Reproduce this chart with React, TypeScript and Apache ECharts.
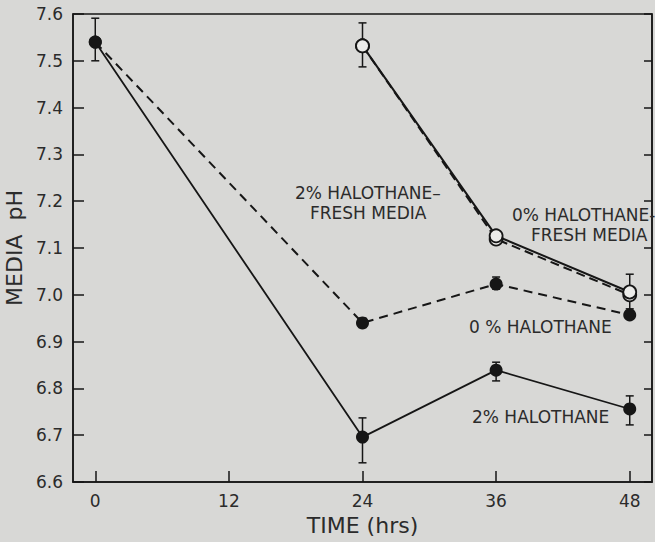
import React, { useEffect, useRef } from "react";
import * as echarts from "echarts";

const timeTicks = [0, 12, 24, 36, 48];

const halo2 = [[0, 7.54], [24, 6.696], [36, 6.839], [48, 6.756]];
const halo0 = [[0, 7.54], [24, 6.94], [36, 7.023], [48, 6.957]];
const fresh2 = [[24, 7.532], [36, 7.126], [48, 7.006]];
const fresh0 = [[24, 7.532], [36, 7.119], [48, 7.0]];

// [time, low, high]
const errorBars = [
  [0, 7.5, 7.591],
  [24, 7.487, 7.581],
  [24, 6.641, 6.737],
  [24, 6.93, 6.95],
  [36, 6.816, 6.856],
  [36, 7.012, 7.038],
  [48, 6.722, 6.784],
  [48, 6.97, 7.044],
];

const labels = [
  { text: "2% HALOTHANE–", x: 295, y: 193 },
  { text: "FRESH MEDIA", x: 310, y: 213 },
  { text: "0% HALOTHANE-", x: 512, y: 215 },
  { text: "FRESH MEDIA", x: 531, y: 235 },
  { text: "0 % HALOTHANE", x: 469, y: 327 },
  { text: "2% HALOTHANE", x: 472, y: 417 },
];

const INK = "#161616";
const TXT = "#2b2b2b";
const BG = "#d8d8d6";
const FONT = "DejaVu Sans";

export default function App() {
  const ref = useRef<HTMLDivElement>(null);
  useEffect(() => {
    if (!ref.current) return;
    const chart = echarts.init(ref.current, null, { renderer: "svg" });
    const filledSym = { color: INK };
    const openSym = { color: "#ececea", borderColor: INK, borderWidth: 1.8 };
    chart.setOption({
      animation: false,
      backgroundColor: BG,
      grid: {
        left: 73,
        right: 3,
        top: 14,
        bottom: 60,
        containLabel: false,
        outerBoundsMode: "none",
        show: true,
        borderColor: INK,
        borderWidth: 1.5,
        backgroundColor: "transparent",
      },
      xAxis: {
        type: "value",
        min: -2,
        max: 50,
        name: "TIME (hrs)",
        nameLocation: "middle",
        nameGap: 32,
        nameTextStyle: { fontFamily: FONT, fontSize: 22, color: TXT },
        axisLine: { onZero: false, lineStyle: { color: INK, width: 1.5 } },
        axisTick: {
          inside: true,
          length: 11,
          customValues: timeTicks,
          lineStyle: { color: INK, width: 1.5 },
        },
        axisLabel: {
          customValues: timeTicks,
          fontFamily: FONT,
          fontSize: 17,
          color: TXT,
          margin: 10,
        },
        splitLine: { show: false },
      },
      yAxis: [
        {
          type: "value",
          min: 6.6,
          max: 7.6,
          interval: 0.1,
          name: "MEDIA  pH",
          nameLocation: "middle",
          nameGap: 44,
          nameTextStyle: { fontFamily: FONT, fontSize: 22, color: TXT },
          axisLine: { show: true, onZero: false, lineStyle: { color: INK, width: 1.5 } },
          axisTick: { inside: true, length: 11, lineStyle: { color: INK, width: 1.5 } },
          axisLabel: {
            fontFamily: FONT,
            fontSize: 17,
            color: TXT,
            margin: 10,
            formatter: (v: number) => v.toFixed(1),
          },
          splitLine: { show: false },
        },
        {
          type: "value",
          position: "right",
          min: 6.6,
          max: 7.6,
          interval: 0.1,
          axisLine: { show: true, onZero: false, lineStyle: { color: INK, width: 1.5 } },
          axisTick: { inside: true, length: 8, lineStyle: { color: INK, width: 1.5 } },
          axisLabel: { show: false },
          splitLine: { show: false },
        },
      ],
      graphic: labels.map((l) => ({
        type: "text",
        x: l.x,
        y: l.y,
        z: 100,
        style: {
          text: l.text,
          font: `17px "${FONT}"`,
          fill: TXT,
          textAlign: "left",
          textVerticalAlign: "middle",
        },
      })),
      series: [
        {
          type: "custom",
          z: 1,
          data: errorBars,
          encode: { x: 0, y: [1, 2] },
          renderItem: (params: any, api: any) => {
            const x = api.value(0);
            const p1 = api.coord([x, api.value(1)]);
            const p2 = api.coord([x, api.value(2)]);
            const w = 4;
            const st = { stroke: INK, lineWidth: 1.5 };
            return {
              type: "group",
              children: [
                { type: "line", shape: { x1: p1[0], y1: p1[1], x2: p2[0], y2: p2[1] }, style: st },
                { type: "line", shape: { x1: p1[0] - w, y1: p1[1], x2: p1[0] + w, y2: p1[1] }, style: st },
                { type: "line", shape: { x1: p2[0] - w, y1: p2[1], x2: p2[0] + w, y2: p2[1] }, style: st },
              ],
            };
          },
        },
        {
          name: "0% HALOTHANE",
          type: "line",
          z: 3,
          data: halo0,
          symbol: "circle",
          symbolSize: 13,
          itemStyle: filledSym,
          lineStyle: { color: INK, width: 2, type: [9, 6] },
        },
        {
          name: "2% HALOTHANE",
          type: "line",
          z: 3,
          data: halo2,
          symbol: "circle",
          symbolSize: 13,
          itemStyle: filledSym,
          lineStyle: { color: INK, width: 1.8 },
        },
        {
          name: "FRESH dashed",
          type: "line",
          z: 4,
          data: fresh0,
          symbol: "circle",
          symbolSize: 13,
          itemStyle: openSym,
          lineStyle: { color: INK, width: 2, type: [9, 5] },
        },
        {
          name: "FRESH solid",
          type: "line",
          z: 5,
          data: fresh2,
          symbol: "circle",
          symbolSize: 13,
          itemStyle: openSym,
          lineStyle: { color: INK, width: 2 },
        },
      ],
    });
    return () => chart.dispose();
  }, []);
  return (
    <div
      ref={ref}
      style={{ position: "fixed", left: 0, top: 0, width: 655, height: 542 }}
    />
  );
}
